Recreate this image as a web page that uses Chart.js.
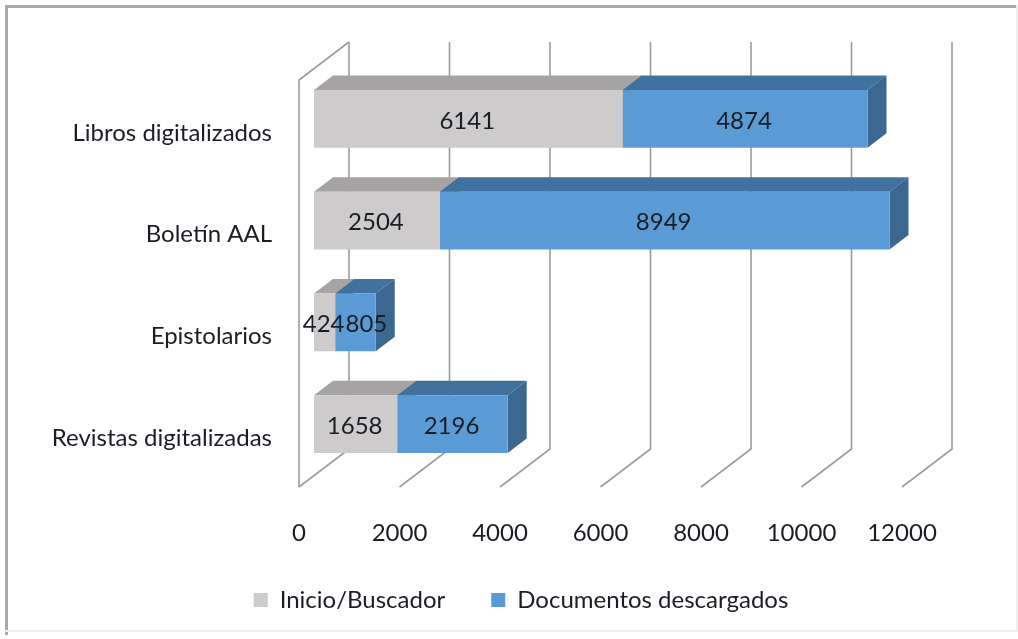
<!DOCTYPE html>
<html>
<head>
<meta charset="utf-8">
<style>html,body{margin:0;padding:0;background:#fff}canvas{display:block}</style>
<script src="https://cdn.jsdelivr.net/npm/chart.js@4/dist/chart.umd.min.js"></script>
</head>
<body>
<canvas id="c" width="1018" height="639"></canvas>
<script>
const categories = ['Libros digitalizados', 'Boletín AAL', 'Epistolarios', 'Revistas digitalizadas'];
const seriesNames = ['Inicio/Buscador', 'Documentos descargados'];
const inicio = [6141, 2504, 424, 1658];
const documentos = [4874, 8949, 805, 2196];
const faceColors = ['#CDCBCC', '#5B9BD5'];
const topColors = ['#A5A3A3', '#41719F'];
const sideColors = ['#8F8E8E', '#3B6791'];
const FONT = 'Lato, Carlito, sans-serif';
const FS = 24;
const TEXT = '#1c1c24';

const plugin3d = {
  id: 'plugin3d',
  beforeDraw(chart) {
    const c = chart.ctx;
    c.save();
    c.fillStyle = '#fff';
    c.fillRect(0, 0, chart.width, chart.height);
    c.fillStyle = '#a8a8a8';
    c.fillRect(5, 5, chart.width - 5, 3);
    c.fillRect(5, 5, 3, chart.height - 9);
    c.fillStyle = '#eeeeee';
    c.fillRect(5, chart.height - 9, chart.width - 5, 2);
    c.fillRect(chart.width - 2, 5, 2, chart.height - 14);
    c.restore();
  },
  beforeDatasetsDraw(chart) {
    const c = chart.ctx, xs = chart.scales.x, a = chart.chartArea;
    const fx = -15, bx = 35;
    const frontY = a.bottom + 12, backY = a.bottom - 26;
    const topY = a.top - 26, wallTop = a.top + 12;
    c.save();
    c.strokeStyle = '#9c9c9c';
    c.lineWidth = 1.6;
    xs.ticks.forEach((t, i) => {
      const p = xs.getPixelForValue(t.value);
      c.beginPath();
      c.moveTo(p + fx, frontY);
      c.lineTo(p + bx, backY);
      c.lineTo(p + bx, topY);
      c.stroke();
      if (i === 0) {
        c.beginPath();
        c.moveTo(p + fx, frontY);
        c.lineTo(p + fx, wallTop);
        c.lineTo(p + bx, topY);
        c.stroke();
      }
    });
    const dx = 19, dy = 14.5;
    chart.data.datasets.forEach((ds, di) => {
      chart.getDatasetMeta(di).data.forEach(el => {
        const t = el.y - el.height / 2, b = el.y + el.height / 2;
        c.fillStyle = topColors[di];
        c.beginPath();
        c.moveTo(el.base, t);
        c.lineTo(el.base + dx, t - dy);
        c.lineTo(el.x + dx, t - dy);
        c.lineTo(el.x, t);
        c.closePath();
        c.fill();
        c.fillStyle = sideColors[di];
        c.beginPath();
        c.moveTo(el.x, t);
        c.lineTo(el.x + dx, t - dy);
        c.lineTo(el.x + dx, b - dy);
        c.lineTo(el.x, b);
        c.closePath();
        c.fill();
      });
    });
    c.restore();
  },
  afterDatasetsDraw(chart) {
    const c = chart.ctx;
    c.save();
    c.font = FS + 'px ' + FONT;
    c.fillStyle = TEXT;
    c.textAlign = 'center';
    c.textBaseline = 'middle';
    categories.forEach((_, j) => {
      let prevRight = -Infinity;
      chart.data.datasets.forEach((ds, di) => {
        const el = chart.getDatasetMeta(di).data[j];
        const s = String(ds.data[j]);
        const w = c.measureText(s).width;
        const x = Math.max((el.base + el.x) / 2 - 1, prevRight + w / 2 + 1);
        c.fillText(s, x, el.y + 2);
        prevRight = x + w / 2;
      });
    });
    c.restore();
  }
};

new Chart(document.getElementById('c'), {
  type: 'bar',
  data: {
    labels: categories,
    datasets: [
      { label: seriesNames[0], data: inicio, backgroundColor: faceColors[0], borderWidth: 0 },
      { label: seriesNames[1], data: documentos, backgroundColor: faceColors[1], borderWidth: 0 }
    ]
  },
  options: {
    indexAxis: 'y',
    responsive: false,
    animation: false,
    devicePixelRatio: 1,
    layout: { padding: { left: 24, right: 0, top: 68, bottom: 17 } },
    datasets: { bar: { categoryPercentage: 1, barPercentage: 0.57 } },
    scales: {
      x: {
        stacked: true, min: 0, max: 12000,
        grid: { display: false }, border: { display: false },
        ticks: { stepSize: 2000, labelOffset: -15, padding: 36, maxRotation: 0, autoSkip: false,
                 color: TEXT, font: { family: FONT, size: FS }, callback: v => String(v) },
        afterFit(s) { s.height = 67; }
      },
      y: {
        stacked: true,
        grid: { display: false }, border: { display: false },
        ticks: { labelOffset: 14, padding: 34, autoSkip: false,
                 color: TEXT, font: { family: FONT, size: FS } },
        afterFit(s) { s.width = 290; }
      },
      spacer: {
        type: 'linear', position: 'right', display: true,
        grid: { display: false }, border: { display: false },
        ticks: { display: false },
        afterFit(s) { s.width = 101; }
      }
    },
    plugins: {
      legend: {
        position: 'bottom',
        labels: { boxWidth: 14, boxHeight: 14, padding: 46, color: TEXT, font: { family: FONT, size: FS } }
      },
      tooltip: { enabled: false },
      title: { display: false }
    }
  },
  plugins: [plugin3d]
});
</script>
</body>
</html>
